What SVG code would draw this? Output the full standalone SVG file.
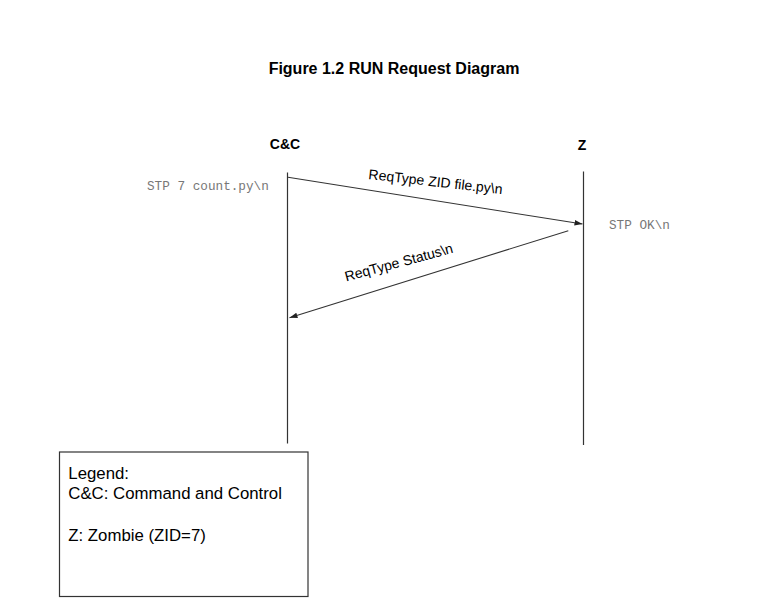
<svg xmlns="http://www.w3.org/2000/svg" width="784" height="616" viewBox="0 0 784 616">
<style>
.title{font-family:"Liberation Sans",Arial,sans-serif;font-weight:bold;font-size:16px;fill:#000}
.actor{font-family:"Liberation Sans",Arial,sans-serif;font-weight:bold;font-size:14px;fill:#000}
.lbl{font-family:"Liberation Sans",Arial,sans-serif;font-size:14px;fill:#000}
.mono{font-family:"Liberation Mono","Courier New",monospace;font-size:12.7px;fill:#777}
.leg{font-family:"Liberation Sans",Arial,sans-serif;font-size:16.8px;fill:#000}
.life{stroke:#333;stroke-width:1.2;fill:none}
.msg{stroke:#333;stroke-width:1.1;fill:none;marker-end:url(#ah)}
</style>
<defs>
<marker id="ah" viewBox="0 0 10 10" refX="10" refY="5" markerWidth="8" markerHeight="8" markerUnits="userSpaceOnUse" orient="auto">
<path d="M0,1.5 L10,5 L0,8.5 Z" fill="#222"/>
</marker>
</defs>
<rect width="784" height="616" fill="#fff"/>
<text class="title" x="394" y="73.5" text-anchor="middle">Figure 1.2 RUN Request Diagram</text>
<g id="cc">
<text class="actor" x="285" y="149" text-anchor="middle">C&amp;C</text>
<line class="life" x1="287.5" y1="172.5" x2="287.5" y2="443.5"/>
<text class="mono" x="147" y="189.5">STP 7 count.py\n</text>
</g>
<g id="z">
<text class="actor" x="582" y="149.5" text-anchor="middle">Z</text>
<line class="life" x1="583.5" y1="171.5" x2="583.5" y2="445"/>
<text class="mono" x="609" y="228.5">STP OK\n</text>
</g>
<g id="connectors">
<line class="msg" x1="288" y1="177.3" x2="582.5" y2="224"/>
<text class="lbl" text-anchor="middle" transform="translate(435,186.5) rotate(6.5)">ReqType ZID file.py\n</text>
<line class="msg" x1="568.3" y1="230.7" x2="289.5" y2="317.7"/>
<text class="lbl" text-anchor="middle" transform="translate(400,267) rotate(-15)">ReqType Status\n</text>
</g>
<g id="legend">
<rect x="59.5" y="452" width="248.5" height="144.5" fill="#fff" stroke="#333" stroke-width="1.2"/>
<text class="leg" x="68.3" y="478.7">Legend:</text>
<text class="leg" x="68.3" y="498.7">C&amp;C: Command and Control</text>
<text class="leg" x="68.3" y="541.3">Z: Zombie (ZID=7)</text>
</g>
</svg>
